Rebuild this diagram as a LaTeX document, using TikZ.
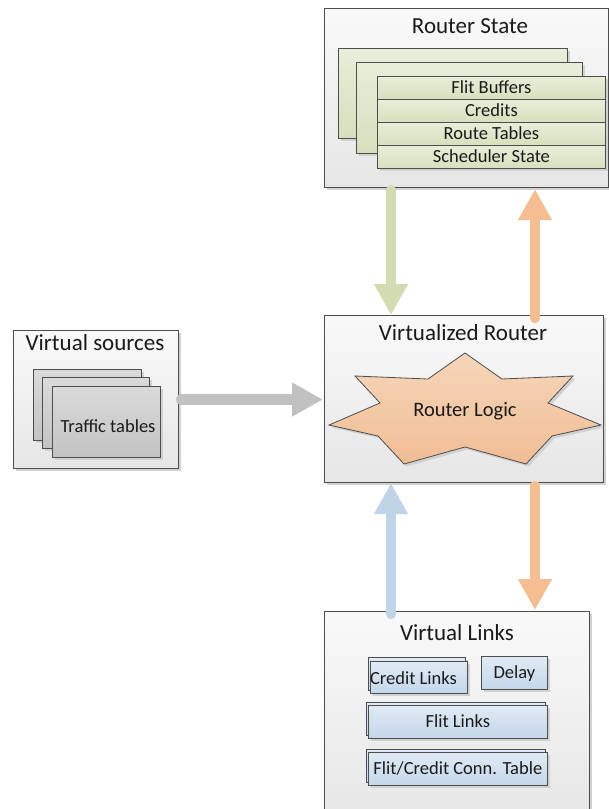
\documentclass[tikz,border=0pt]{standalone}
\usepackage{fontspec}
\setmainfont{Carlito}
\usetikzlibrary{arrows.meta}

\definecolor{edge}{HTML}{4D4D4D}
\definecolor{ink}{HTML}{1A1A1A}
\definecolor{panelT}{HTML}{F9F9F9}
\definecolor{panelB}{HTML}{E6E6E6}
\definecolor{greenT}{HTML}{E9EED9}
\definecolor{greenB}{HTML}{D6DFBD}
\definecolor{grayT}{HTML}{DADADA}
\definecolor{grayB}{HTML}{C3C3C3}
\definecolor{blueT}{HTML}{E0EAF5}
\definecolor{blueB}{HTML}{C4D7EA}
\definecolor{starT}{HTML}{F6D6BA}
\definecolor{starB}{HTML}{F0BD94}
\definecolor{arrGreen}{HTML}{D2DBB2}
\definecolor{arrOrange}{HTML}{F4BE92}
\definecolor{arrBlue}{HTML}{C0D4E7}
\definecolor{arrGray}{HTML}{C1C1C1}

\tikzset{
  shad/.style={preaction={draw=none, fill=black!18,
      transform canvas={shift={(2.5pt,-2.5pt)}}}},
  panel/.style={draw=edge, line width=1.1pt, top color=panelT,
      bottom color=panelB, shad, inner sep=0pt, anchor=north west},
  sheet/.style={draw=edge, line width=0.8pt, shad, inner sep=0pt,
      anchor=north west, text=ink, font=\fontsize{18.5}{22}\selectfont,
      text height=11.8pt, text depth=0pt},
  gsheet/.style={sheet, top color=greenT, bottom color=greenB},
  ssheet/.style={sheet, top color=grayT, bottom color=grayB},
  bsheet/.style={sheet, top color=blueT, bottom color=blueB},
  title/.style={text=ink, inner sep=0pt, text height=14.7pt, text depth=0pt,
      font=\fontsize{23}{27}\selectfont},
  label/.style={text=ink, inner sep=0pt, text height=11.8pt, text depth=0pt,
      font=\fontsize{18.5}{22}\selectfont},
  logiclabel/.style={text=ink, inner sep=0pt, text height=13.1pt, text depth=0pt,
      font=\fontsize{20.5}{24}\selectfont},
  bigarrow/.style={line width=10.5pt, line cap=round,
      -{Triangle[width=32pt,length=31pt]}},
}

\begin{document}
\begin{tikzpicture}[x=1pt,y=-1pt]
\useasboundingbox (0,0) rectangle (609,809);

% ---------- Router State ----------
\node[panel, minimum width=284pt, minimum height=179pt] (state) at (324,8) {};
\node[title] (stateT) at (470,26.5) {Router State};
\node[gsheet, minimum width=229pt, minimum height=90pt] (gs1) at (338,48) {};
\node[gsheet, minimum width=226pt, minimum height=91pt] (gs2) at (356,62) {};
\node[gsheet, minimum width=228pt, minimum height=23pt] (r1) at (377,76) {Flit Buffers};
\node[gsheet, minimum width=228pt, minimum height=23pt] (r2) at (377,99) {Credits};
\node[gsheet, minimum width=228pt, minimum height=23pt] (r3) at (377,122) {Route Tables};
\node[gsheet, minimum width=228pt, minimum height=23pt] (r4) at (377,145) {Scheduler State};

% ---------- Virtual sources ----------
\node[panel, minimum width=165pt, minimum height=138pt] (vs) at (13,330) {};
\node[title] (vsT) at (95,343) {Virtual sources};
\node[ssheet, minimum width=108pt, minimum height=71pt] (t1) at (33,369) {};
\node[ssheet, minimum width=107pt, minimum height=71pt] (t2) at (42,377) {};
\node[ssheet, minimum width=108pt, minimum height=71pt] (t3) at (52,386) {};
\node[label] (tt) at (108,427) {Traffic tables};

% ---------- Virtualized Router ----------
\node[panel, minimum width=279pt, minimum height=167pt] (router) at (324,315) {};
\node[title] (routerT) at (463,333) {Virtualized Router};
\draw[draw=edge, line width=0.8pt, top color=starT, bottom color=starB, shad]
  (465,353) -- (502,379) -- (573,376) -- (548,403) -- (601,425)
  -- (552,436) -- (526,464) -- (465,447) -- (404,464) -- (378,436)
  -- (329,425) -- (380,403) -- (355,376) -- (428,379) -- cycle;
\node[logiclabel] (logic) at (465,409.5) {Router Logic};

% ---------- Virtual Links ----------
\node[panel, minimum width=265pt, minimum height=210pt] (links) at (324,611) {};
\node[title] (linksT) at (457,633.5) {Virtual Links};
\node[bsheet, minimum width=97pt, minimum height=33pt] (cl0) at (368,657) {};
\node[bsheet, minimum width=97pt, minimum height=32pt] (cl) at (370,661) {};
\node[label] (clT) at (413.5,679) {Credit Links};
\node[bsheet, minimum width=66pt, minimum height=33pt] (dl) at (481,656) {Delay};
\node[bsheet, minimum width=179pt, minimum height=33pt] (fl0) at (366,702) {};
\node[bsheet, minimum width=179pt, minimum height=33pt] (fl) at (368,705) {Flit Links};
\node[bsheet, minimum width=179pt, minimum height=33pt] (ct0) at (366,749) {};
\node[bsheet, minimum width=179pt, minimum height=33pt] (ct) at (368,752) {Flit/Credit Conn. Table};

% ---------- Connectors ----------
\coordinate (colL) at (391,0);
\coordinate (colR) at (535,0);
\draw[bigarrow, arrGreen, shorten <=2pt] (state.south -| colL) -- (router.north -| colL);
\draw[bigarrow, arrOrange, shorten <=-3pt, shorten >=1pt] (router.north -| colR) -- (state.south -| colR);
\draw[bigarrow, arrBlue, shorten <=-3pt] (links.north -| colL) -- (router.south -| colL);
\draw[bigarrow, arrOrange, shorten <=3pt, shorten >=1pt] (router.south -| colR) -- (links.north -| colR);
\draw[bigarrow, arrGray, shorten <=2pt, shorten >=1pt] (vs.east) -- (router.west |- vs.east);
\end{tikzpicture}
\end{document}
